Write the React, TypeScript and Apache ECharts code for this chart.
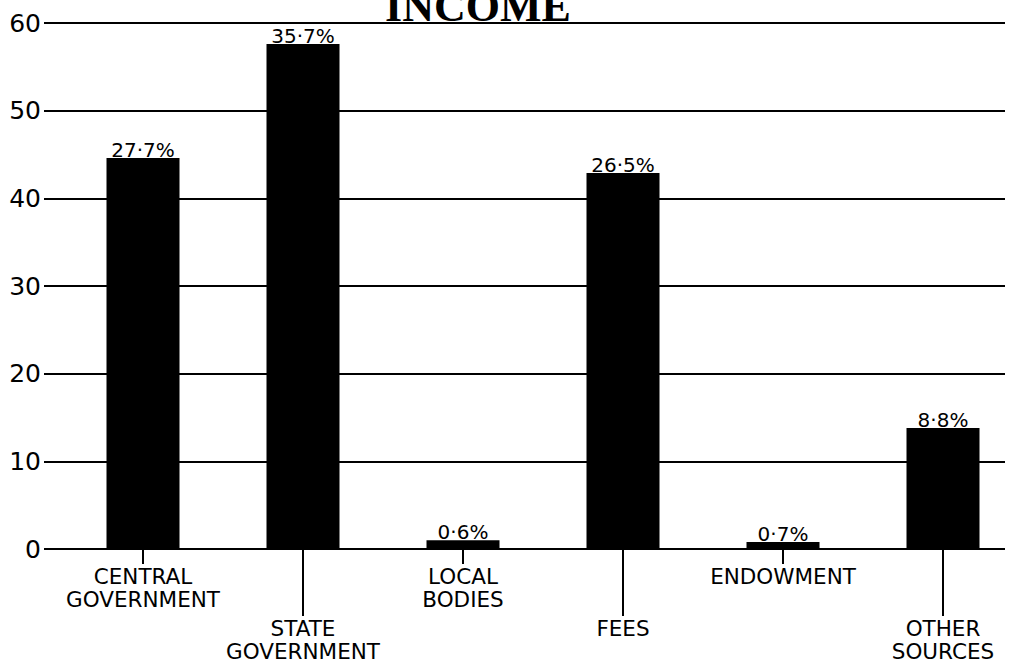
import React, { useEffect, useRef } from "react";
import * as echarts from "echarts";

const categories = [
  "CENTRAL\nGOVERNMENT",
  "STATE\nGOVERNMENT",
  "LOCAL\nBODIES",
  "FEES",
  "ENDOWMENT",
  "OTHER\nSOURCES",
];
const incomeValues = [44.6, 57.6, 1.0, 42.9, 0.8, 13.8];
const shareLabels = ["27·7%", "35·7%", "0·6%", "26·5%", "0·7%", "8·8%"];
const yTicks = { min: 0, max: 60, interval: 10 };
const titleText = "INCOME";

export default function App() {
  const ref = useRef<HTMLDivElement>(null);
  useEffect(() => {
    if (!ref.current) return;
    const chart = echarts.init(ref.current, null, { renderer: "svg" });
    const font = "DejaVu Sans";
    const evenIdx = (i: number) => i % 2 === 0;
    const oddIdx = (i: number) => i % 2 === 1;
    chart.setOption({
      animation: false,
      backgroundColor: "#ffffff",
      grid: [
        { left: 44, right: 6, top: 23, height: 526, outerBoundsMode: "none", containLabel: false },
        { left: 63, width: 960, top: 23, height: 526, outerBoundsMode: "none", containLabel: false },
      ],
      xAxis: [
        { type: "value", gridIndex: 0, show: false, min: 0, max: 1 },
        {
          type: "category",
          gridIndex: 1,
          data: categories,
          axisLine: { show: false },
          axisTick: {
            show: true,
            alignWithLabel: true,
            interval: (i: number) => evenIdx(i),
            length: 15,
            lineStyle: { color: "#000", width: 2 },
          },
          axisLabel: {
            interval: (i: number) => evenIdx(i),
            margin: 16,
            fontFamily: font,
            fontSize: 21.5,
            lineHeight: 23,
            color: "#000",
          },
        },
        {
          type: "category",
          gridIndex: 1,
          position: "bottom",
          data: categories,
          axisLine: { show: false },
          axisTick: {
            show: true,
            alignWithLabel: true,
            interval: (i: number) => oddIdx(i),
            length: 67,
            lineStyle: { color: "#000", width: 2 },
          },
          axisLabel: {
            interval: (i: number) => oddIdx(i),
            margin: 68,
            fontFamily: font,
            fontSize: 21.5,
            lineHeight: 23,
            color: "#000",
          },
        },
      ],
      yAxis: [
        {
          type: "value",
          gridIndex: 0,
          min: yTicks.min,
          max: yTicks.max,
          interval: yTicks.interval,
          axisLine: { show: false },
          axisTick: { show: false },
          splitLine: { show: true, lineStyle: { color: "#000", width: 2 } },
          axisLabel: {
            margin: 3,
            fontFamily: font,
            fontSize: 25,
            color: "#000",
            padding: [0, 0, 8, 0],
          },
        },
        {
          type: "value",
          gridIndex: 1,
          min: yTicks.min,
          max: yTicks.max,
          show: false,
          splitLine: { show: false },
        },
      ],
      series: [
        {
          type: "bar",
          xAxisIndex: 1,
          yAxisIndex: 1,
          data: incomeValues,
          barWidth: 73,
          itemStyle: { color: "#000" },
          label: {
            show: true,
            position: "top",
            distance: -2,
            fontFamily: font,
            fontSize: 20,
            color: "#000",
            formatter: (p: any) => shareLabels[p.dataIndex],
          },
        },
      ],
      graphic: [
        {
          type: "text",
          x: 478,
          y: 6,
          z: 100,
          style: {
            text: titleText,
            font: "bold 44px 'Liberation Serif'",
            fill: "#000",
            align: "center",
            verticalAlign: "middle",
          },
        },
      ],
    });
    return () => chart.dispose();
  }, []);
  return (
    <div
      ref={ref}
      style={{ position: "fixed", left: 0, top: 0, width: 1011, height: 664 }}
    />
  );
}
